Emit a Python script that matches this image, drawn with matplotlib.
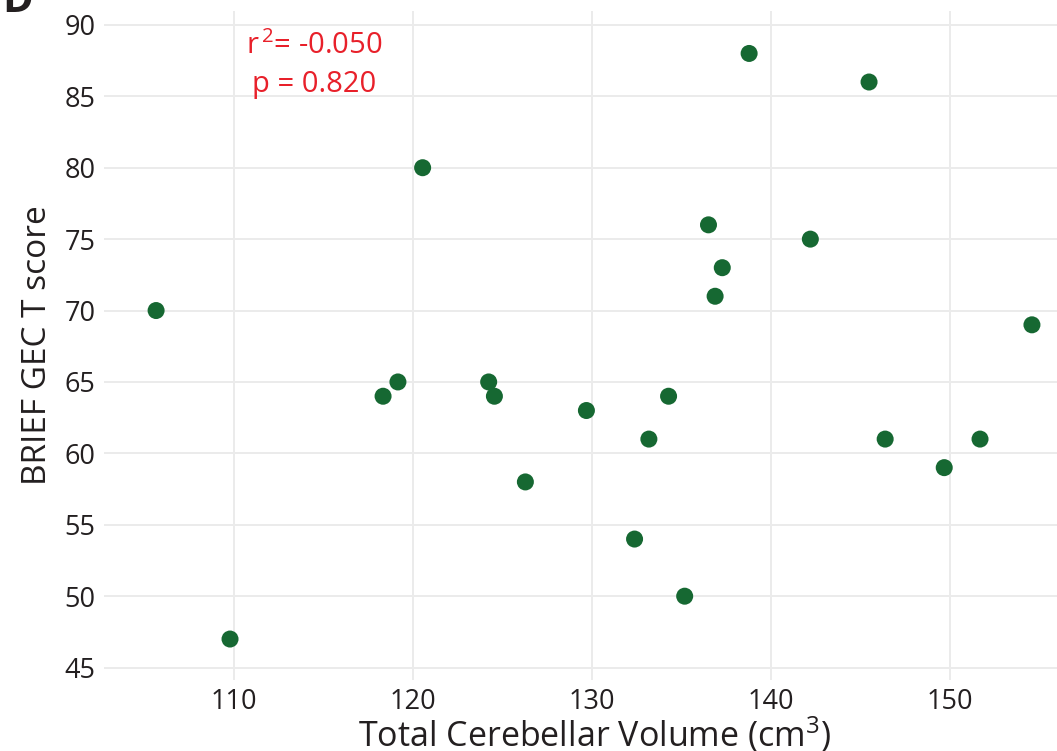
import matplotlib
matplotlib.use("Agg")
import matplotlib.pyplot as plt

volume = [105.67, 109.8, 118.35, 119.18, 120.56, 124.25, 124.57, 126.3, 129.71,
          132.4, 133.2, 134.3, 135.2, 136.53, 136.9, 137.3, 138.8, 142.22,
          145.5, 146.4, 149.7, 151.7, 154.6]
gec_t = [70, 47, 64, 65, 80, 65, 64, 58, 63,
         54, 61, 64, 50, 76, 71, 73, 88, 75,
         86, 61, 59, 61, 69]
x_ticks = [110, 120, 130, 140, 150]
y_ticks = [45, 50, 55, 60, 65, 70, 75, 80, 85, 90]
r2_text = "r$^{\\,2}$= -0.050"
p_text = "p = 0.820"

plt.rcParams['font.family'] = ['Open Sans', 'DejaVu Sans']
plt.rcParams['mathtext.default'] = 'regular'

fig = plt.figure(figsize=(10.57, 7.51), dpi=100)
ax = fig.add_axes([0.0984, 0.0945, 0.9016, 0.891])

ax.scatter(volume, gec_t, s=150, color='#166832', edgecolors='none', zorder=3)

ax.set_xlim(102.76, 156.0)
ax.set_ylim(44.13, 90.98)
ax.set_xticks(x_ticks)
ax.set_yticks(y_ticks)
ax.grid(True, color='#ebebeb', linewidth=1.4)
ax.set_axisbelow(True)
for sp in ax.spines.values():
    sp.set_visible(False)
ax.tick_params(length=0, labelsize=19.5, colors='#231f20', pad=6)

ax.set_xlabel("Total Cerebellar Volume (cm$^{3}$)", fontsize=24.5, color='#231f20')
ax.xaxis.set_label_coords(0.515, -0.0515)
ax.set_ylabel("BRIEF GEC T score", fontsize=24, color='#231f20', labelpad=8)

ax.text(114.5, 88.53, r2_text, color='#e8202a', fontsize=21, ha='center', va='center')
ax.text(114.5, 85.8, p_text, color='#e8202a', fontsize=21, ha='center', va='center')

fig.text(0.002, 1 - 12 / 751, "D", fontsize=30, fontweight='bold', color='#231f20',
         ha='left', va='baseline')

fig.savefig("out.png", dpi=100)
